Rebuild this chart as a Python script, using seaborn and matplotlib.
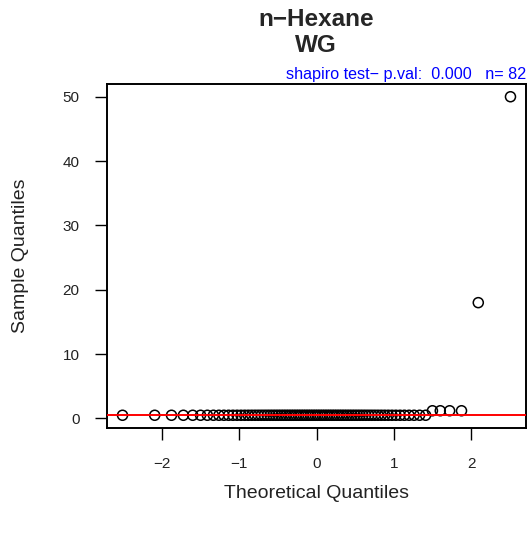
import statistics

import matplotlib

matplotlib.use("Agg")
import matplotlib.pyplot as plt
import numpy as np
import pandas as pd
import seaborn as sns

# n-Hexane, WG sample values (mostly at the reporting limit)
hexane_values = [0.5] * 76 + [1.2, 1.2, 1.2, 1.2, 18.0, 50.0]
shapiro_pval = "0.000"
title_lines = ["n\u2212Hexane", "WG"]
x_ticks = [-2, -1, 0, 1, 2]
y_ticks = [0, 10, 20, 30, 40, 50]

# qqnorm-style theoretical quantiles from the sample
sample = np.sort(np.array(hexane_values))
n = len(sample)
probs = (np.arange(1, n + 1) - 0.5) / n
theo = np.array([statistics.NormalDist().inv_cdf(p) for p in probs])
df = pd.DataFrame({"theoretical": theo, "sample": sample})

# qqline through the quartiles
q1, q3 = np.quantile(sample, [0.25, 0.75])
z1 = statistics.NormalDist().inv_cdf(0.25)
z3 = statistics.NormalDist().inv_cdf(0.75)
slope = (q3 - q1) / (z3 - z1)
intercept = q1 - slope * z1

sns.set_style("white")
plt.rcParams["font.family"] = ["Liberation Sans", "DejaVu Sans"]

W, H = 529, 533
fig = plt.figure(figsize=(W / 100, H / 100), dpi=100)
ax = fig.add_axes([107 / W, 1 - 428 / H, (526 - 107) / W, (428 - 84) / H])

sns.scatterplot(data=df, x="theoretical", y="sample", ax=ax, marker="o",
                s=52, facecolor="none", edgecolor="black", linewidth=1.1,
                zorder=3)
ax.axline((0, intercept), slope=slope, color="red", linewidth=1.4, zorder=4)

xr = theo.max() - theo.min()
yr = sample.max() - sample.min()
ax.set_xlim(theo.min() - 0.04 * xr, theo.max() + 0.04 * xr)
ax.set_ylim(sample.min() - 0.04 * yr, sample.max() + 0.04 * yr)
ax.set_xticks(x_ticks)
ax.set_yticks(y_ticks)
ax.tick_params(axis="both", direction="out", length=8.8, width=1.0,
               color="black", labelsize=11, labelcolor="#222222",
               bottom=True, left=True)
ax.tick_params(axis="x", pad=12)
ax.tick_params(axis="y", pad=11)
for sp in ax.spines.values():
    sp.set_color("black")
    sp.set_linewidth(1.4)

ax.set_xlabel("Theoretical Quantiles", fontsize=14, color="#222222",
              labelpad=10)
ax.set_ylabel("Sample Quantiles", fontsize=14, color="#222222",
              labelpad=24)

fig.text(316 / W, 1 - 20 / H, title_lines[0], ha="center", va="center",
         fontsize=17.5, fontweight="bold")
fig.text(316 / W, 1 - 46 / H, title_lines[1], ha="center", va="center",
         fontsize=17.5, fontweight="bold")
ax.text(1.0, 1.006, f"shapiro test\u2212 p.val:  {shapiro_pval}   n= {n}",
        transform=ax.transAxes, ha="right", va="bottom", fontsize=11.6,
        color="blue")

fig.savefig("out.png", dpi=100)
